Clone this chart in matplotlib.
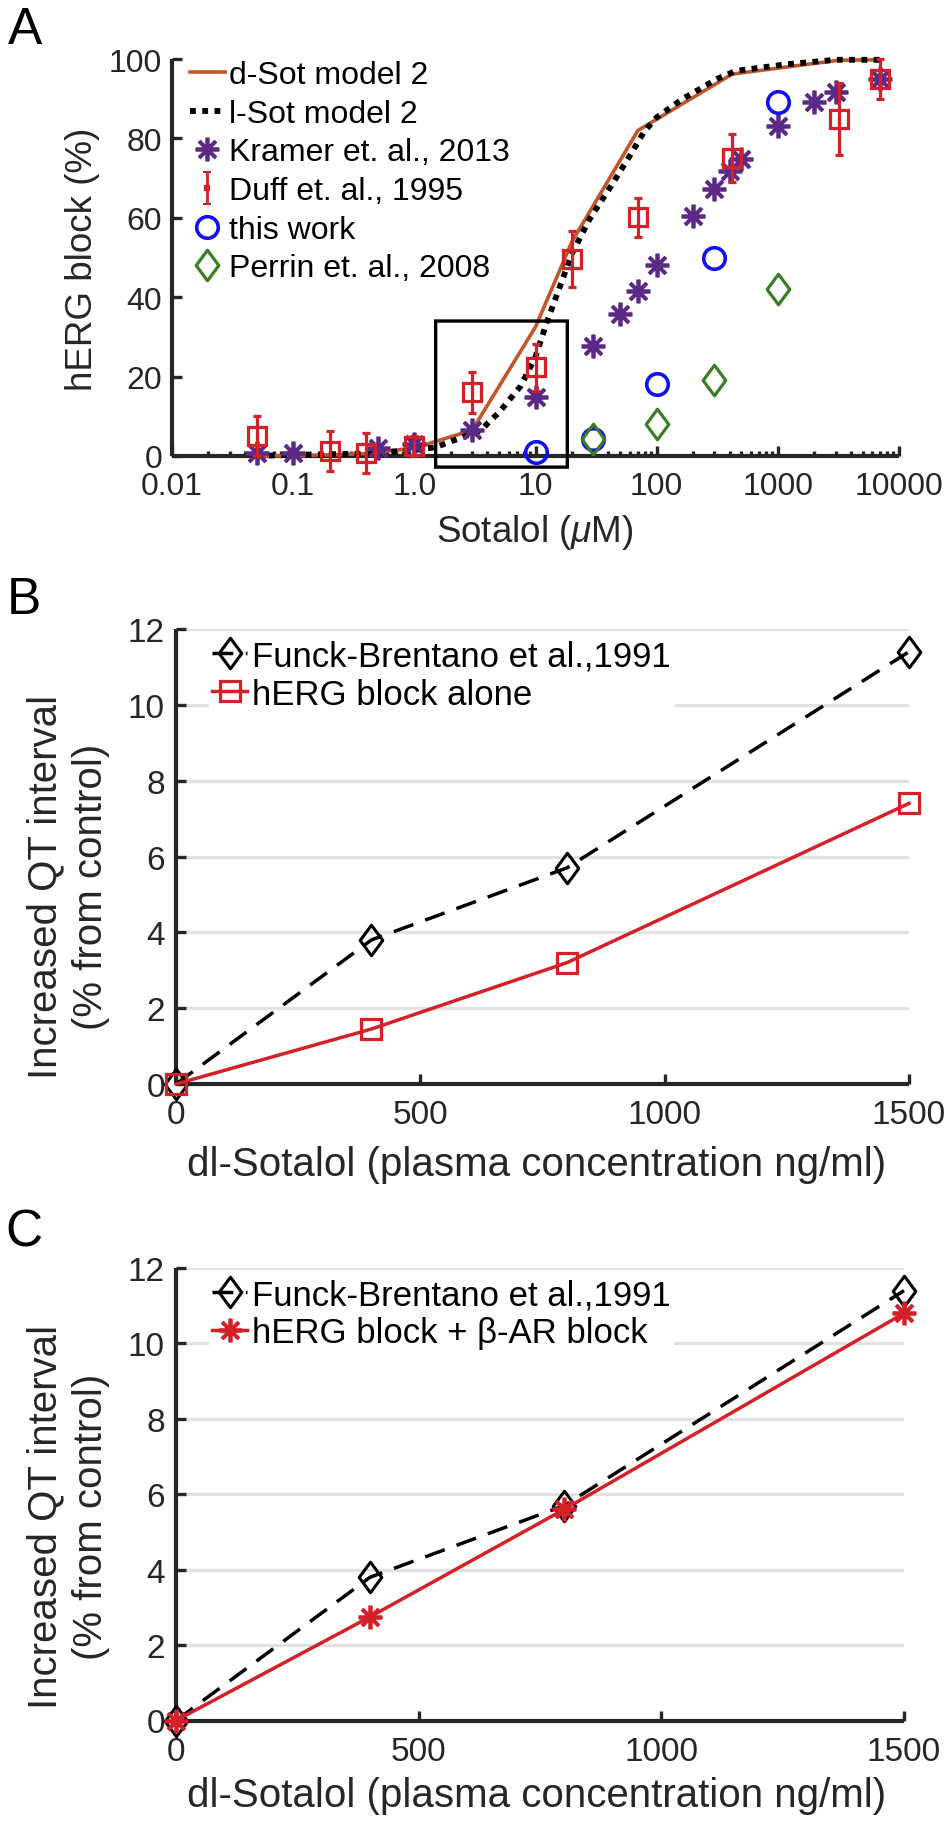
import numpy as np
import matplotlib
matplotlib.use("Agg")
import matplotlib.pyplot as plt
from matplotlib.path import Path
from matplotlib.patches import FancyBboxPatch

plt.rcParams['font.family'] = ['Liberation Sans', 'DejaVu Sans']
plt.rcParams['mathtext.fontset'] = 'custom'
plt.rcParams['mathtext.it'] = 'Liberation Sans:italic'
plt.rcParams['mathtext.rm'] = 'Liberation Sans'

# ---------------- Panel A data ----------------
dsot_x = [0.05, 0.1, 0.2, 0.4, 1.0, 3.0, 10, 20, 70, 420, 3200, 7000]
dsot_y = [0.0, 0.1, 0.3, 0.6, 2.0, 6.5, 32.5, 54, 82, 96.2, 99.7, 99.8]

lsot_x = [0.05, 0.1, 0.4, 1.0, 1.5, 2.1, 3.5, 5.0, 7.5, 10, 12.5, 15.6, 20, 28, 42, 60, 78, 100, 163, 316, 450, 1200, 3000, 7000]
lsot_y = [0.0, 0.3, 0.6, 1.5, 2.2, 3.9, 6.4, 11, 17.5, 25, 34, 42, 51, 59.7, 68, 75.6, 81.5, 85.3, 89.9, 95, 97, 98.7, 99.8, 99.8]

kramer_x = [0.05, 0.1, 0.5, 1.0, 3.0, 10, 30, 50, 70, 100, 200, 300, 400, 500, 1000, 2000, 3000, 7000]
kramer_y = [0.7, 0.7, 1.9, 3.0, 6.6, 14.8, 27.8, 35.8, 41.5, 48.1, 60.5, 67.3, 71.9, 74.8, 83.2, 89.2, 91.8, 95.0]

duff_x = [0.05, 0.2, 0.4, 1.0, 3.0, 10, 20, 70, 420, 3200, 7000]
duff_y = [5.1, 1.3, 0.8, 2.6, 16.0, 22.3, 49.6, 60.1, 75.0, 84.9, 95.0]
duff_err = [5.0, 5.0, 5.0, 2.5, 5.1, 6.0, 7.0, 5.0, 6.0, 9.0, 5.0]

work_x = [10, 30, 100, 300, 1000]
work_y = [1.1, 4.3, 18.1, 50.0, 89.1]

perrin_x = [30, 100, 300, 1000]
perrin_y = [4.3, 8.1, 19.1, 42.1]

a_xticks = [0.01, 0.1, 1.0, 10, 100, 1000, 10000]
a_xticklabels = ['0.01', '0.1', '1.0', '10', '100', '1000', '10000']
a_yticks = [0, 20, 40, 60, 80, 100]

# ---------------- Panels B / C data ----------------
conc = [0, 400, 800, 1500]
funck = [0, 3.8, 5.7, 11.4]
herg_alone = [0, 1.45, 3.2, 7.4]
herg_beta = [0, 2.75, 5.6, 10.8]
bc_xticks = [0, 500, 1000, 1500]
bc_yticks = [0, 2, 4, 6, 8, 10, 12]

# ---------------- style ----------------
W, H = 952, 1824
DPI = 100
ink = '#262626'
orange = '#c0562b'
purple = '#5a2a86'
red = '#d42027'
blue = '#1010f0'
green = '#3b7d23'
grid_col = '#e2e2e2'

diamond = Path([(0, 1), (0.74, 0), (0, -1), (-0.74, 0), (0, 1)],
               [Path.MOVETO, Path.LINETO, Path.LINETO, Path.LINETO, Path.CLOSEPOLY])
star = (8, 2, 0)

fig = plt.figure(figsize=(W / DPI, H / DPI), dpi=DPI)


def axes_px(left, right, top, bottom):
    return fig.add_axes([left / W, 1 - bottom / H, (right - left) / W, (bottom - top) / H])


def style_axes(ax, tick_fs, pad_x, pad_y):
    for s in ['top', 'right']:
        ax.spines[s].set_visible(False)
    for s in ['left', 'bottom']:
        ax.spines[s].set_linewidth(3.0)
        ax.spines[s].set_color(ink)
        ax.spines[s].set_capstyle('butt')
    ax.tick_params(which='major', direction='in', length=7, width=2.4, color=ink,
                   labelsize=tick_fs, labelcolor=ink)
    ax.tick_params(axis='x', which='major', pad=pad_x)
    ax.tick_params(axis='y', which='major', pad=pad_y)
    ax.tick_params(which='minor', direction='in', length=3.5, width=2.4, color=ink)


# ================= Panel A =================
axA = axes_px(172, 899, 60, 457)
axA.set_xscale('log')
axA.set_xlim(0.01, 10000)
axA.set_ylim(0, 100)

h_d, = axA.plot(dsot_x, dsot_y, color=orange, lw=2.6, zorder=3, clip_on=False)
h_l, = axA.plot(lsot_x, lsot_y, color='black', lw=4.2, linestyle=(0, (1, 1.1)),
                dash_capstyle='butt', zorder=3, clip_on=False)
h_k, = axA.plot(kramer_x, kramer_y, linestyle='none', marker=star, ms=17, mew=2.7, color=purple,
                zorder=4, clip_on=False)
axA.errorbar(duff_x, duff_y, yerr=duff_err, fmt='s', ms=13, mew=2.3, mfc='none', mec=red,
             ecolor=red, elinewidth=2.3, capsize=3, capthick=2.3, zorder=5, clip_on=False)
# legend proxy for the Duff error-bar symbol
h_du = axA.errorbar([np.nan], [np.nan], yerr=[1], fmt='s', ms=3.5, mew=1.5, color=red, mfc=red,
                    ecolor=red, elinewidth=2.0, capsize=3, capthick=2.0)
h_w, = axA.plot(work_x, work_y, linestyle='none', marker='o', ms=15.5, mew=2.6, mfc='none',
                mec=blue, zorder=6, clip_on=False)
h_p, = axA.plot(perrin_x, perrin_y, linestyle='none', marker=diamond, ms=22, mew=2.3, mfc='none',
                mec=green, zorder=6, clip_on=False)

# zoom box
box_x0, box_x1, box_y0, box_y1 = 1.5, 18.3, -2.8, 34.0
axA.add_patch(FancyBboxPatch((box_x0, box_y0), box_x1 - box_x0, box_y1 - box_y0,
                             boxstyle='round,pad=0,rounding_size=0.0', fill=False,
                             lw=2.4, ec='black', zorder=7, clip_on=False))

axA.set_xticks(a_xticks)
axA.set_xticklabels(a_xticklabels)
axA.set_yticks(a_yticks)
axA.yaxis.set_minor_locator(matplotlib.ticker.NullLocator())
style_axes(axA, 23, 11, 7)

legA = axA.legend([h_d, h_l, h_k, h_du, h_w, h_p],
                  ['d-Sot model 2', 'l-Sot model 2', 'Kramer et. al., 2013',
                   'Duff et. al., 1995', 'this work', 'Perrin et. al., 2008'],
                  loc='upper left', bbox_to_anchor=(0.02, 1.005), fontsize=23, frameon=False,
                  handlelength=1.1, handletextpad=0.12, labelspacing=0.27, borderaxespad=0.0,
                  borderpad=0.1)
for t in legA.get_texts():
    t.set_color('black')

fig.text(82 / W, 1 - 259 / H, 'hERG block (%)', rotation=90, ha='center', va='center',
         fontsize=26.5, color=ink)
fig.text(535 / W, 1 - 532 / H, r'Sotalol ($\mathit{\mu}$M)', ha='center', va='center',
         fontsize=26.5, color=ink)
fig.text(25 / W, 1 - 31 / H, 'A', ha='center', va='center', fontsize=37, color='black')


# ================= Panels B and C =================
def qt_panel(ax, red_y, red_marker, red_label, red_ms, red_mew):
    ax.set_xlim(0, 1500)
    ax.set_ylim(0, 12)
    ax.set_xticks(bc_xticks)
    ax.set_yticks(bc_yticks)
    for yv in bc_yticks[1:]:
        ax.axhline(yv, color=grid_col, lw=2.3, zorder=0)
    ax.plot(conc, funck, color='black', lw=2.5, linestyle=(0, (6, 3.6)), marker=diamond,
            ms=22, mew=2.2, mfc='none', mec='black', label='Funck-Brentano et al.,1991',
            zorder=4, clip_on=False)
    ax.plot(conc, red_y, color=red, lw=2.5, marker=red_marker, ms=red_ms, mew=red_mew,
            mfc='none', mec=red, label=red_label, zorder=5, clip_on=False)
    style_axes(ax, 24, 11, 8)
    leg = ax.legend(loc='upper left', bbox_to_anchor=(0.045, 0.985), fontsize=25,
                    handlelength=1.0, handletextpad=0.15, labelspacing=0.15,
                    borderaxespad=0.0, borderpad=0.1, frameon=True, fancybox=False,
                    framealpha=1.0, facecolor='white', edgecolor='none')
    leg.set_zorder(8)
    return leg


axB = axes_px(176, 909, 630, 1085)
qt_panel(axB, herg_alone, 's', 'hERG block alone', 14, 2.3)
axC = axes_px(176, 904, 1269, 1721.5)
qt_panel(axC, herg_beta, star, r'hERG block + β-AR block', 17, 2.7)

for (ycen, xlab_y, lab_y, lab) in [(887, 1165, 601, 'B'), (1517, 1796, 1233, 'C')]:
    fig.text(45 / W, 1 - ycen / H, 'Increased QT interval', rotation=90, ha='center', va='center',
             fontsize=29, color=ink)
    fig.text(91 / W, 1 - ycen / H, '(% from control)', rotation=90, ha='center', va='center',
             fontsize=29, color=ink)
    fig.text(537 / W, 1 - xlab_y / H, 'dl-Sotalol (plasma concentration ng/ml)', ha='center',
             va='center', fontsize=29, color=ink)
    fig.text(24 / W, 1 - lab_y / H, lab, ha='center', va='center', fontsize=37, color='black')

fig.savefig('out.png', dpi=DPI, facecolor='white')
